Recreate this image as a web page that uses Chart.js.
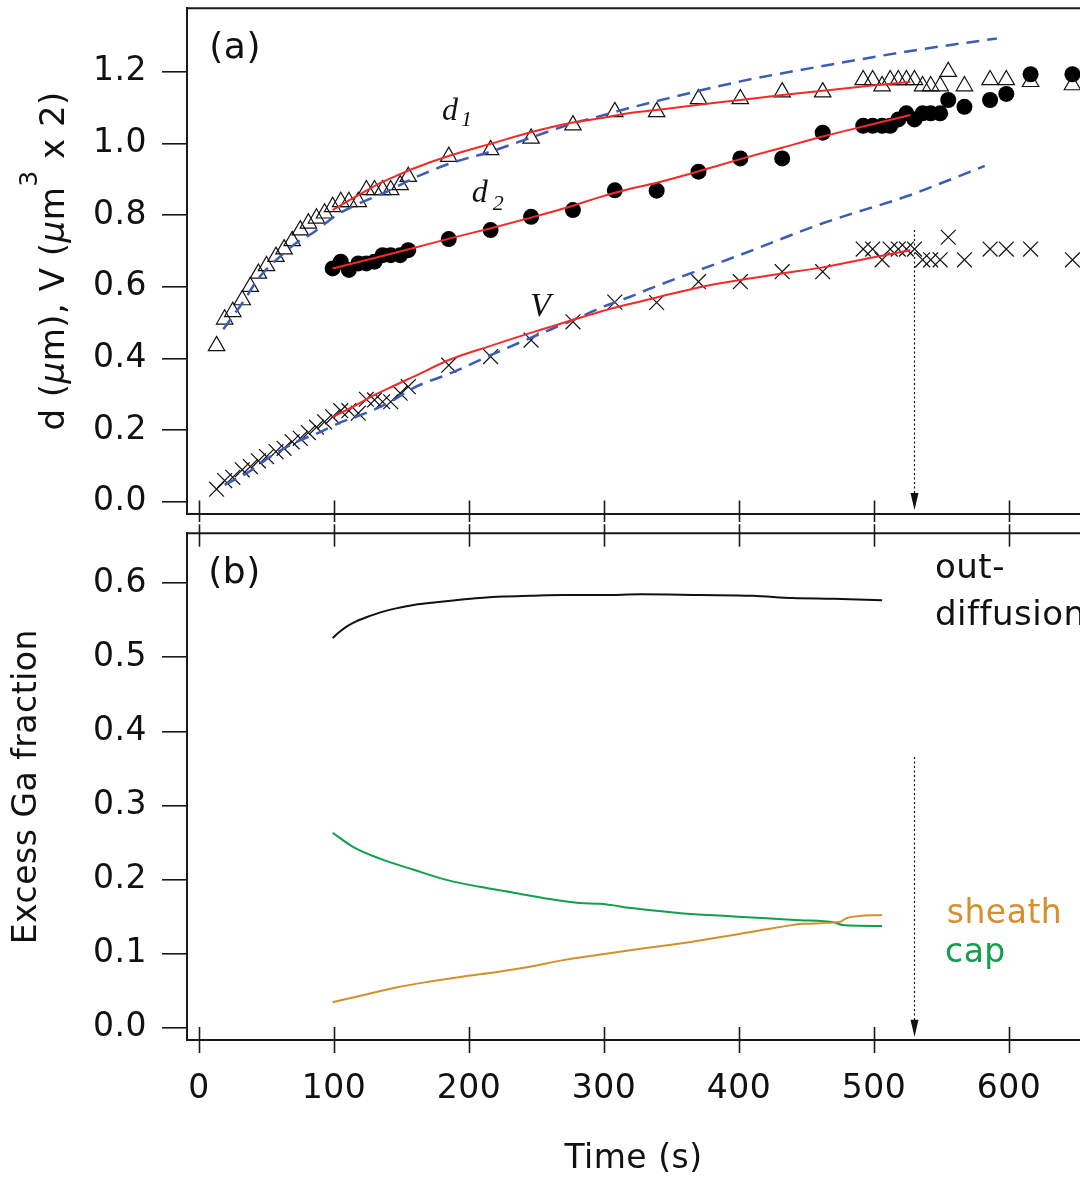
<!DOCTYPE html>
<html>
<head>
<meta charset="utf-8">
<script src="https://cdn.jsdelivr.net/npm/chart.js@4.4.1/dist/chart.umd.min.js"></script>
<style>
  body { margin: 0; background: #fff; }
  #wrap { position: relative; width: 1080px; height: 1183px; }
  canvas { position: absolute; left: 0; }
  #topChart { top: 0; }
  #bottomChart { top: 520px; }
</style>
</head>
<body>
<div id="wrap">
  <canvas id="topChart" width="1080" height="530"></canvas>
  <canvas id="bottomChart" width="1080" height="663"></canvas>
</div>
<script>
// tick values
var xTicks = [0, 100, 200, 300, 400, 500, 600];
var topTicks = [0, 0.2, 0.4, 0.6, 0.8, 1.0, 1.2];
var bottomTicks = [0, 0.1, 0.2, 0.3, 0.4, 0.5, 0.6];

// measured data, panel (a)
var time = [13, 19, 25, 32, 38, 44, 50, 57, 63, 69, 75, 81, 87, 93, 99, 105, 111, 118, 124, 130, 136, 142, 149, 155,
  185, 216, 246, 277, 308, 339, 370, 401, 432, 462,
  492, 499, 506, 512, 518, 524, 530, 536, 542, 549, 555, 567, 586, 598, 616, 647];
var d1 = [0.435, 0.509, 0.530, 0.563, 0.600, 0.637, 0.658, 0.684, 0.705, 0.728, 0.758, 0.777, 0.791, 0.805, 0.823, 0.837, 0.837, 0.837, 0.870, 0.870, 0.870, 0.870, 0.884, 0.907,
  0.963, 0.982, 1.014, 1.051, 1.088, 1.088, 1.124, 1.124, 1.143, 1.143,
  1.177, 1.177, 1.160, 1.177, 1.177, 1.177, 1.177, 1.160, 1.160, 1.160, 1.200, 1.160, 1.177, 1.177, 1.172, 1.163];
var vol = [0.035, 0.059, 0.068, 0.089, 0.098, 0.114, 0.126, 0.140, 0.149, 0.167, 0.177, 0.193, 0.208, 0.223, 0.237, 0.254, 0.254, 0.247, 0.286, 0.284, 0.279, 0.279, 0.303, 0.321,
  0.381, 0.405, 0.451, 0.502, 0.557, 0.556, 0.614, 0.614, 0.642, 0.642,
  0.705, 0.705, 0.675, 0.705, 0.705, 0.705, 0.705, 0.675, 0.675, 0.675, 0.738, 0.675, 0.705, 0.705, 0.705, 0.675];
var d2Time = [99, 105, 111, 118, 124, 130, 136, 142, 149, 155,
  185, 216, 246, 277, 308, 339, 370, 401, 432, 462,
  492, 499, 506, 512, 518, 524, 530, 536, 542, 549, 555, 567, 586, 598, 616, 647];
var d2 = [0.651, 0.670, 0.647, 0.665, 0.665, 0.670, 0.688, 0.688, 0.688, 0.702,
  0.733, 0.758, 0.795, 0.814, 0.869, 0.868, 0.921, 0.958, 0.958, 1.030,
  1.049, 1.049, 1.049, 1.049, 1.067, 1.084, 1.067, 1.084, 1.084, 1.084, 1.121, 1.102, 1.121, 1.138, 1.193, 1.193];

// fits (red) and model (blue dashed)
var fitD1Time = [99, 114, 124, 134, 144, 159, 186, 217, 248, 277, 297, 318, 339, 370, 401, 432, 462, 495, 527];
var fitD1 = [0.814, 0.847, 0.868, 0.889, 0.906, 0.930, 0.966, 1.000, 1.033, 1.058, 1.070, 1.084, 1.093, 1.108, 1.121, 1.135, 1.147, 1.160, 1.172];
var fitD2Time = [99, 130, 159, 186, 217, 248, 277, 297, 318, 339, 370, 401, 432, 462, 495, 527];
var fitD2 = [0.651, 0.680, 0.708, 0.735, 0.764, 0.795, 0.826, 0.850, 0.872, 0.890, 0.922, 0.956, 0.988, 1.019, 1.050, 1.079];
var fitVTime = [99, 114, 129, 144, 159, 186, 216, 248, 277, 297, 318, 339, 370, 401, 432, 462, 495, 527];
var fitV = [0.236, 0.265, 0.296, 0.323, 0.349, 0.397, 0.435, 0.474, 0.507, 0.530, 0.551, 0.570, 0.598, 0.619, 0.637, 0.654, 0.679, 0.702];
var modelD1Time = [18, 32, 45, 60, 72, 85, 102, 119, 139, 159, 186, 216, 248, 277, 297, 318, 339, 401, 462, 527, 591];
var modelD1 = [0.481, 0.554, 0.628, 0.684, 0.722, 0.752, 0.800, 0.833, 0.865, 0.903, 0.944, 0.977, 1.019, 1.056, 1.076, 1.098, 1.118, 1.173, 1.216, 1.258, 1.293];
var modelVTime = [19, 35, 53, 70, 90, 104, 122, 142, 159, 186, 216, 248, 277, 300, 318, 339, 401, 462, 527, 545, 582];
var modelV = [0.047, 0.079, 0.126, 0.163, 0.195, 0.220, 0.245, 0.279, 0.318, 0.358, 0.409, 0.461, 0.507, 0.545, 0.570, 0.602, 0.689, 0.777, 0.856, 0.882, 0.937];

// panel (b)
var outTime = [99, 104, 109, 116, 124, 135, 146, 160, 174, 190, 208, 225, 245, 270, 300, 327, 371, 410, 440, 470, 506];
var outDiff = [0.526, 0.534, 0.541, 0.548, 0.554, 0.561, 0.566, 0.571, 0.574, 0.577, 0.580, 0.582, 0.583, 0.584, 0.584, 0.585, 0.584, 0.583, 0.580, 0.579, 0.577];
var capTime = [99, 114, 134, 159, 184, 208, 233, 258, 282, 297, 322, 359, 396, 445, 470, 478, 506];
var cap = [0.263, 0.244, 0.228, 0.213, 0.199, 0.190, 0.182, 0.174, 0.168, 0.167, 0.161, 0.154, 0.150, 0.145, 0.142, 0.138, 0.137];
var sheathTime = [99, 122, 146, 171, 196, 221, 245, 270, 295, 322, 359, 396, 425, 448, 475, 480, 506];
var sheath = [0.034, 0.044, 0.054, 0.062, 0.069, 0.075, 0.082, 0.091, 0.098, 0.105, 0.114, 0.125, 0.134, 0.140, 0.143, 0.148, 0.152];

var RED = '#f42a2a', BLUE = '#3c5cb5', GREEN = '#10a04c', ORANGE = '#d4902c', INK = '#1a1a1a';
var SANS = '"DejaVu Sans"', SERIF = '"Liberation Serif"';

Chart.defaults.font.family = SANS;
Chart.defaults.color = '#111';

function pts(xs, ys) {
  return xs.map(function (x, i) { return { x: x, y: ys[i] }; });
}

function curve(xs, ys, color, width, dash) {
  return {
    data: pts(xs, ys), showLine: true, borderColor: color, borderWidth: width,
    borderDash: dash || [], pointRadius: 0, cubicInterpolationMode: 'monotone', fill: false
  };
}

function markers(xs, ys, style, radius, fill) {
  return {
    data: pts(xs, ys), showLine: false, pointStyle: style, pointRadius: radius,
    borderColor: '#111', borderWidth: style == 'circle' ? 0 : 1.2,
    backgroundColor: fill, clip: false
  };
}

// frame: top line, x ticks crossing the axis lines
function frame(edges) {
  return {
    id: 'frame',
    afterDraw: function (chart) {
      var ctx = chart.ctx, a = chart.chartArea, sx = chart.scales.x;
      ctx.save();
      ctx.strokeStyle = INK;
      ctx.lineWidth = 2;
      ctx.beginPath();
      ctx.moveTo(a.left - 1, a.top);
      ctx.lineTo(a.right, a.top);
      ctx.stroke();
      ctx.lineWidth = 1.6;
      edges.forEach(function (e) {
        var y = e.at == 'top' ? a.top : a.bottom;
        var dir = e.at == 'top' ? 1 : -1;
        xTicks.forEach(function (t) {
          var x = Math.round(sx.getPixelForValue(t)) + 0.5;
          ctx.beginPath();
          ctx.moveTo(x, y + dir * e.inside);
          ctx.lineTo(x, y - dir * e.outside);
          ctx.stroke();
        });
      });
      ctx.restore();
    }
  };
}

// text labels and the dotted arrow
function notes(list, arrow) {
  return {
    id: 'notes',
    afterDatasetsDraw: function (chart) {
      var ctx = chart.ctx, sx = chart.scales.x, sy = chart.scales.y;
      ctx.save();
      ctx.letterSpacing = '0.5px';
      ctx.textAlign = 'left';
      ctx.textBaseline = 'alphabetic';
      list.forEach(function (n) {
        ctx.font = n.font;
        ctx.fillStyle = n.color || '#111';
        ctx.fillText(n.text, sx.getPixelForValue(n.x) + (n.dx || 0), sy.getPixelForValue(n.y) + (n.dy || 0));
      });
      var ax = Math.round(sx.getPixelForValue(arrow.x)) + 0.5;
      var y0 = sy.getPixelForValue(arrow.from), y1 = sy.getPixelForValue(arrow.to);
      ctx.strokeStyle = '#111';
      ctx.lineWidth = 1.2;
      ctx.setLineDash([2, 2.5]);
      ctx.beginPath();
      ctx.moveTo(ax, y0);
      ctx.lineTo(ax, y1 - 14);
      ctx.stroke();
      ctx.setLineDash([]);
      ctx.fillStyle = '#111';
      ctx.beginPath();
      ctx.moveTo(ax - 4, y1 - 17);
      ctx.lineTo(ax + 4, y1 - 17);
      ctx.lineTo(ax, y1);
      ctx.closePath();
      ctx.fill();
      ctx.restore();
    }
  };
}

// rotated axis title with italic mu and a raised 3
var topTitle = [
  { text: 'd (', font: '34px ' + SANS },
  { text: '\u03bc', font: 'italic 34px ' + SANS },
  { text: 'm), V (', font: '34px ' + SANS },
  { text: '\u03bc', font: 'italic 34px ' + SANS },
  { text: 'm', font: '34px ' + SANS },
  { text: '3', font: '25px ' + SANS, rise: 27 },
  { text: ' x 2)', font: '34px ' + SANS }
];

function sideTitle(parts, baseX) {
  return {
    id: 'sideTitle',
    afterDraw: function (chart) {
      var ctx = chart.ctx, a = chart.chartArea;
      ctx.save();
      ctx.letterSpacing = '0.5px';
      ctx.fillStyle = '#111';
      ctx.textBaseline = 'alphabetic';
      ctx.textAlign = 'left';
      var total = 0;
      parts.forEach(function (p) { ctx.font = p.font; p.w = ctx.measureText(p.text).width; total += p.w; });
      ctx.translate(baseX, (a.top + a.bottom) / 2);
      ctx.rotate(-Math.PI / 2);
      var pos = -total / 2;
      parts.forEach(function (p) {
        ctx.font = p.font;
        ctx.fillText(p.text, pos, -(p.rise || 0));
        pos += p.w;
      });
      ctx.restore();
    }
  };
}

function spacing() {
  return { id: 'spacing', beforeDraw: function (chart) { chart.ctx.letterSpacing = '0.5px'; } };
}

function yAxis(min, max, ticks, title, titlePad) {
  return {
    type: 'linear', min: min, max: max,
    afterBuildTicks: function (s) { s.ticks = ticks.map(function (v) { return { value: v }; }); },
    afterFit: function (s) { s.width = 187; s.paddingTop = 0; s.paddingBottom = 0; },
    grid: { drawOnChartArea: false, drawTicks: true, tickLength: 25, color: INK, lineWidth: 1.6 },
    border: { display: true, color: INK, width: 2 },
    ticks: { padding: 15, font: { size: 33 }, color: '#111', autoSkip: false,
      callback: function (v) { return v.toFixed(1); } },
    title: { display: !!title, text: title, font: { size: 33 }, color: '#111', padding: { top: titlePad, bottom: 0 } }
  };
}

function xAxis(showLabels, height) {
  return {
    type: 'linear', min: -8.9, max: 652.6,
    afterBuildTicks: function (s) { s.ticks = xTicks.map(function (v) { return { value: v }; }); },
    afterFit: function (s) { s.height = height; s.paddingLeft = 0; s.paddingRight = 0; },
    grid: { display: false, drawTicks: false },
    border: { display: true, color: INK, width: 2 },
    ticks: { display: showLabels, padding: 30, font: { size: 33 }, color: '#111', autoSkip: false, maxRotation: 0 },
    title: { display: showLabels, text: 'Time (s)', font: { size: 33 }, color: '#111', padding: { top: 0, bottom: 4 } }
  };
}

new Chart(document.getElementById('topChart').getContext('2d'), {
  type: 'scatter',
  data: {
    datasets: [
      curve(fitD1Time, fitD1, RED, 2),
      curve(fitD2Time, fitD2, RED, 2),
      curve(fitVTime, fitV, RED, 2),
      curve(modelD1Time, modelD1, BLUE, 2.5, [13, 8]),
      curve(modelVTime, modelV, BLUE, 2.5, [13, 8]),
      markers(time, d1, 'triangle', 9.5, 'rgba(0,0,0,0)'),
      markers(d2Time, d2, 'circle', 8, '#000'),
      markers(time, vol, 'crossRot', 10.5, 'rgba(0,0,0,0)')
    ]
  },
  options: {
    responsive: false, animation: false, events: [],
    layout: { autoPadding: false, padding: { top: 8.3, bottom: 16.5, left: 0, right: 0 } },
    plugins: { legend: { display: false }, tooltip: { enabled: false } },
    scales: {
      x: xAxis(false, 0),
      y: yAxis(-0.0329, 1.377, topTicks, '', 0)
    }
  },
  plugins: [spacing(), frame([{ at: 'bottom', inside: 13, outside: 8.5 }]), sideTitle(topTitle, 64),
    notes([
      { text: '(a)', x: 7.6, y: 1.2375, font: '36px ' + SANS },
      { text: 'd', x: 180, y: 1.0653, font: 'italic 32px ' + SERIF },
      { text: '1', x: 180, y: 1.0653, dx: 19, dy: 6, font: 'italic 22px ' + SERIF },
      { text: 'd', x: 202, y: 0.8365, font: 'italic 32px ' + SERIF },
      { text: '2', x: 202, y: 0.8365, dx: 21, dy: 8, font: 'italic 22px ' + SERIF },
      { text: 'V', x: 245.2, y: 0.518, font: 'italic 34px ' + SERIF }
    ], { x: 529.9, from: 0.758, to: -0.023 })]
});

new Chart(document.getElementById('bottomChart').getContext('2d'), {
  type: 'scatter',
  data: {
    datasets: [
      curve(outTime, outDiff, '#111', 2),
      curve(sheathTime, sheath, ORANGE, 2),
      curve(capTime, cap, GREEN, 2)
    ]
  },
  options: {
    responsive: false, animation: false, events: [],
    layout: { autoPadding: false, padding: { top: 13.3, bottom: 0, left: 0, right: 0 } },
    plugins: { legend: { display: false }, tooltip: { enabled: false } },
    scales: {
      x: xAxis(true, 143),
      y: yAxis(-0.01688, 0.6674, bottomTicks, 'Excess Ga fraction', 8)
    }
  },
  plugins: [spacing(), frame([{ at: 'top', inside: 13.4, outside: 9 }, { at: 'bottom', inside: 13, outside: 13 }]),
    notes([
      { text: '(b)', x: 6.9, y: 0.5999, font: '36px ' + SANS },
      { text: 'out-', x: 545.2, y: 0.607, font: '34px ' + SANS },
      { text: 'diffusion', x: 545.2, y: 0.5436, font: '34px ' + SANS },
      { text: 'sheath', x: 553.9, y: 0.1411, font: '33px ' + SANS, color: ORANGE },
      { text: 'cap', x: 552.6, y: 0.0889, font: '33px ' + SANS, color: GREEN }
    ], { x: 529.9, from: 0.3653, to: -0.0124 })]
});
</script>
</body>
</html>
